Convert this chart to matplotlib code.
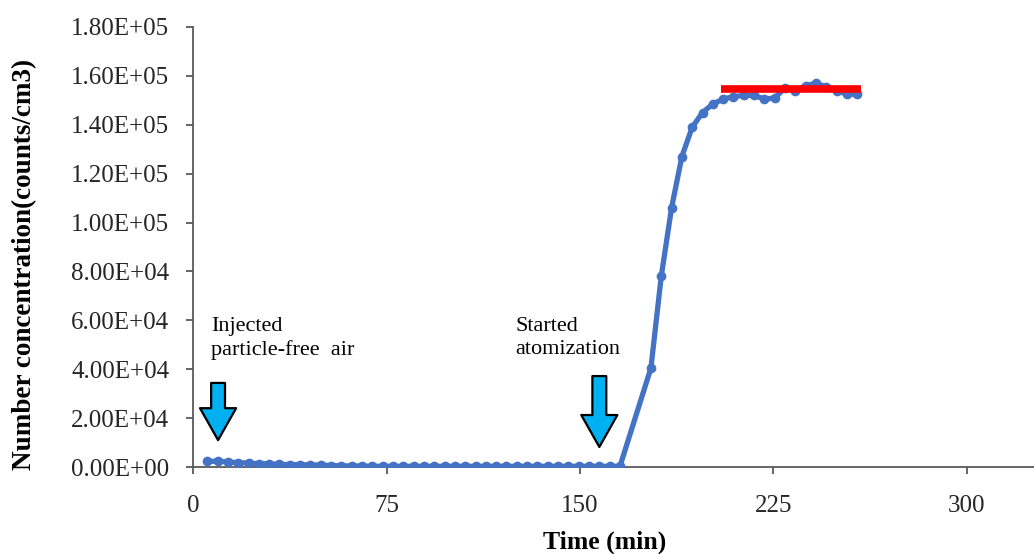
import matplotlib.pyplot as plt
from matplotlib.ticker import FuncFormatter

plt.rcParams["font.family"] = ["Liberation Serif", "DejaVu Serif"]

# time (min) and number concentration (counts/cm3)
time_min = [5.5, 9.5, 13.5, 17.5, 21.5, 25.5, 29.5, 33.5, 37.5, 41.5,
            45.5, 49.5, 53.5, 57.5, 61.5, 65.5, 69.5, 73.5, 77.5, 81.5,
            85.5, 89.5, 93.5, 97.5, 101.5, 105.5, 109.5, 113.5, 117.5, 121.5,
            125.5, 129.5, 133.5, 137.5, 141.5, 145.5, 149.5, 153.5, 157.5, 161.5,
            165.5, 177.5, 181.5, 185.5, 189.5, 193.5, 197.5, 201.5, 205.5, 209.5,
            213.5, 217.5, 221.5, 225.5, 229.5, 233.5, 237.5, 241.5, 245.5, 249.5,
            253.5, 257.5]
conc = [2300, 2400, 2000, 1800, 1600, 1400, 1300, 1100, 1000, 900,
        900, 800, 600, 500, 400, 400, 300, 300, 300, 300,
        300, 300, 300, 300, 300, 300, 300, 300, 300, 300,
        300, 300, 300, 300, 300, 300, 300, 300, 300, 300,
        300, 40500, 78000, 106000, 127000, 139000, 145000, 148500, 150500, 151500,
        152000, 152000, 150500, 151000, 155000, 154000, 156000, 157000, 155500, 154000,
        152500, 152500]

# steady-state level marker
steady_x = [204.7, 259.0]
steady_y = [154500, 154500]

# event annotations: label, text x, arrow x, arrow top, arrow tip
labels = ["Injected\nparticle-free  air", "Started\natomization"]
text_x = [7.0, 125.0]
arrow_x = [9.7, 157.5]
arrow_top = [34400, 37200]
arrow_tip = [11000, 8200]

x_ticks = [0, 75, 150, 225, 300]
y_ticks = [0, 20000, 40000, 60000, 80000, 100000, 120000, 140000, 160000, 180000]

fig = plt.figure(figsize=(10.34, 5.54), dpi=100)
ax = fig.add_axes([0.1867, 0.157, 0.8133, 0.7943])

ax.plot(time_min, conc, color="#4472C4", lw=3.8, marker="o", ms=7,
        markeredgewidth=0, solid_joinstyle="round", zorder=3)
ax.plot(steady_x, steady_y, color="#FF0000", lw=5.5, solid_capstyle="butt", zorder=4)

for label, tx, x, y0, y1 in zip(labels, text_x, arrow_x, arrow_top, arrow_tip):
    ax.text(tx, 61500, label, fontsize=16, va="top", ha="left", linespacing=1.3)
    ax.annotate("", xy=(x, y1), xytext=(x, y0),
                arrowprops=dict(arrowstyle="simple,head_length=1.15,head_width=1.3,tail_width=0.5",
                                fc="#00B0F0", ec="black", lw=1.6,
                                mutation_scale=20, shrinkA=0, shrinkB=0))

ax.set_xlim(0, 326)
ax.set_ylim(0, 180000)
ax.set_xticks(x_ticks)
ax.set_yticks(y_ticks)
ax.yaxis.set_major_formatter(FuncFormatter(lambda v, p: f"{v:.2E}"))

for side in ["top", "right"]:
    ax.spines[side].set_visible(False)
for side in ["left", "bottom"]:
    ax.spines[side].set_color("#595959")
    ax.spines[side].set_linewidth(1.3)
ax.tick_params(axis="both", direction="out", length=5, width=1.3, color="#595959",
               labelsize=18, labelcolor="#262626")
ax.tick_params(axis="x", pad=15)
ax.tick_params(axis="y", pad=12)

ax.set_xlabel("Time (min)", fontsize=18.5, fontweight="bold")
ax.set_ylabel("Number concentration(counts/cm3)", fontsize=19.5, fontweight="bold")
ax.xaxis.set_label_coords(0.49, -0.145)
ax.yaxis.set_label_coords(-0.185, 0.46)

fig.savefig("out.png", dpi=100)
